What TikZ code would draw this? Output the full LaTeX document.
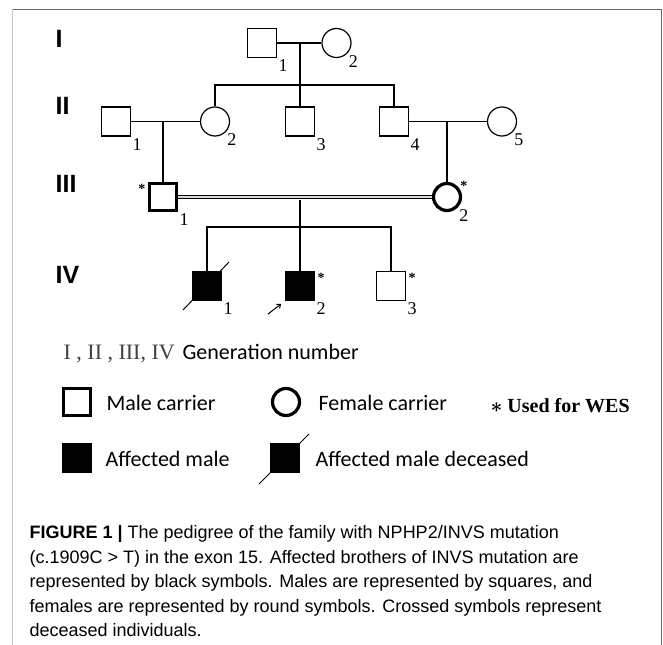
\documentclass[tikz,border=0pt]{standalone}
\usepackage{fontspec}
\setmainfont{Liberation Serif}
\setsansfont{Liberation Sans}
\newfontfamily\calibri{Carlito}
\usetikzlibrary{arrows.meta}

\tikzset{
  male/.style={draw,minimum size=29bp,inner sep=0,line width=1.2bp},
  female/.style={male,circle},
  carrier/.style={line width=3.2bp,minimum size=27bp},
  affected/.style={fill=black},
  idx/.style={font=\fontsize{18bp}{18bp}\selectfont,inner sep=1bp},
  wes/.style={font=\bfseries\fontsize{14bp}{14bp}\selectfont,inner sep=2bp},
  gen/.style={font=\sffamily\bfseries\fontsize{25bp}{25bp}\selectfont,inner sep=0,anchor=base west},
  legend/.style={font=\calibri\fontsize{22bp}{22bp}\selectfont,inner sep=0,anchor=base west},
  caption/.style={font=\sffamily\fontsize{18bp}{24.6bp}\selectfont,align=left,inner sep=0,anchor=base west}
}

\begin{document}
\begin{tikzpicture}[x=1bp,y=-1bp,line width=1.2bp]
\useasboundingbox (0,0) rectangle (663,645);
\draw[gray!45,line width=1.5bp] (12.5,645) -- (12.5,9.5);
\draw[gray!80!black,line width=1.5bp] (12.5,9.5) -- (661.5,9.5) -- (661.5,645);

\node[gen] (g1) at (55,48) {I};
\node[gen] (g2) at (55,115) {II};
\node[gen] (g3) at (55,192.5) {III};
\node[gen] (g4) at (55,283) {IV};

\node[male,label={[idx]below right:1}] (I1) at (262,43) {};
\node[female,label={[idx]below right:2}] (I2) at (336.5,43) {};

\node[male,label={[idx]below right:1}] (II1) at (116,121.5) {};
\node[female,label={[idx]below right:2}] (II2) at (215,121.5) {};
\node[male,label={[idx]below right:3}] (II3) at (300,121.5) {};
\node[male,label={[idx]below right:4}] (II4) at (394,121.5) {};
\node[female,label={[idx]below right:5}] (II5) at (502,121.5) {};

\node[male,carrier,label={[idx]below right:1},label={[wes,anchor=north east]north west:*}] (III1) at (163,197) {};
\node[female,carrier,label={[idx]below right:2},label={[wes,anchor=west]45:*}] (III2) at (447,197) {};

\node[male,affected,label={[idx]below right:1}] (IV1) at (207,286) {};
\node[male,affected,label={[idx]below right:2},label={[wes,anchor=north west]north east:*}] (IV2) at (300,286) {};
\node[male,label={[idx]below right:3},label={[wes,anchor=north west]north east:*}] (IV3) at (391,286) {};

\coordinate (c1) at (300,43);
\coordinate (s1) at (300,85);
\coordinate (c2) at (163,121.5);
\coordinate (c3) at (447,121.5);
\coordinate (c4) at (300,199.5);
\coordinate (s2) at (300,227);

\draw (I1) -- (I2);
\draw (c1) -- (II3);
\draw (II2) |- (s1) -| (II4);
\draw (II1) -- (II2);
\draw (c2) -- (III1);
\draw (II4) -- (II5);
\draw (c3) -- (III2);
\draw[double=gray!30,double distance=2bp,line width=1bp] (III1) -- (III2);
\draw (c4) -- (IV2);
\draw (IV1) |- (s2) -| (IV3);
\draw[line width=1bp] ([shift={(-24,24)}]IV1.center) -- ([shift={(22,-24)}]IV1.center);
\draw[line width=1bp,-{To[length=4bp,width=6bp]}] ([shift={(-17,13)}]IV2.south west) -- ([shift={(-4,3)}]IV2.south west);

\node[font=\fontsize{22bp}{22bp}\selectfont,text=black!75,inner sep=0,anchor=base west] (r1) at (63,359) {I , II , III, IV};
\node[legend] (r2) at (182,359) {Generation number};

\node[male,carrier] (k1) at (77,402) {};
\node[legend] (t1) at (106,410) {Male carrier};
\node[female,carrier] (k2) at (286,402) {};
\node[legend] (t2) at (318,410) {Female carrier};
\node[font=\bfseries\boldmath\fontsize{20bp}{20bp}\selectfont,inner sep=0,anchor=base west] (t3) at (490,412.5) {$\ast$ Used for WES};

\node[male,affected] (k3) at (77,458) {};
\node[legend] (t4) at (105,466) {Affected male};
\node[male,affected] (k4) at (285,458) {};
\draw[line width=1bp] ([shift={(-26,26)}]k4.center) -- ([shift={(24,-24)}]k4.center);
\node[legend] (t5) at (315,466) {Affected male deceased};

\node[caption] (cap) at (29,636.9) {\textbf{FIGURE 1 |} The pedigree of the family with NPHP2/INVS mutation\\
(c.1909C > T) in the exon 15. Affected brothers of INVS mutation are\\
represented by black symbols. Males are represented by squares, and\\
females are represented by round symbols. Crossed symbols represent\\
deceased individuals.};
\end{tikzpicture}
\end{document}
